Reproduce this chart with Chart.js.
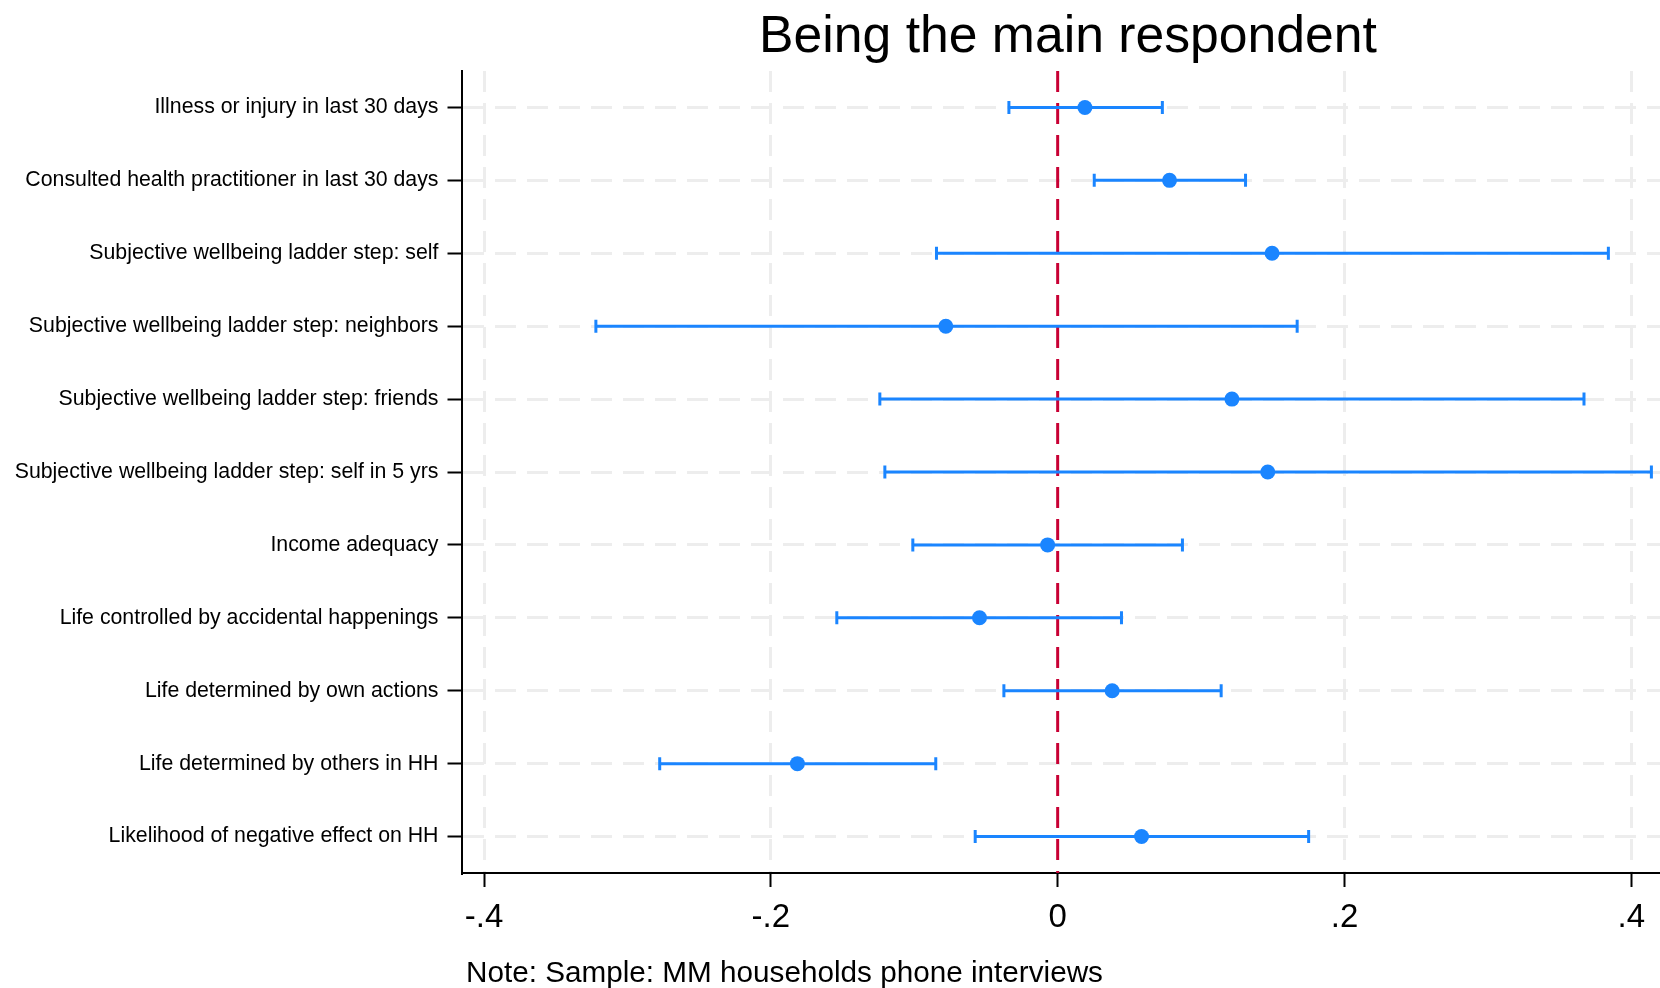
<!DOCTYPE html>
<html>
<head>
<meta charset="utf-8">
<script src="https://cdn.jsdelivr.net/npm/chart.js@4.4.1/dist/chart.umd.min.js"></script>
<style>
    html, body { margin: 0; padding: 0; background: #fff; }
</style>
</head>
<body>
<canvas id="id_grafica" width="1660" height="988"></canvas>
<script>
//------------------------DATOS---------------------------
const etiquetas = [
    'Illness or injury in last 30 days',
    'Consulted health practitioner in last 30 days',
    'Subjective wellbeing ladder step: self',
    'Subjective wellbeing ladder step: neighbors',
    'Subjective wellbeing ladder step: friends',
    'Subjective wellbeing ladder step: self in 5 yrs',
    'Income adequacy',
    'Life controlled by accidental happenings',
    'Life determined by own actions',
    'Life determined by others in HH',
    'Likelihood of negative effect on HH'
];
const coeficientes = [0.019, 0.078, 0.1495, -0.078, 0.1215, 0.1465, -0.007, -0.0545, 0.038, -0.1815, 0.0585];
const limInferior = [-0.034, 0.0255, -0.0845, -0.322, -0.124, -0.1205, -0.101, -0.154, -0.0375, -0.2775, -0.0575];
const limSuperior = [0.073, 0.131, 0.384, 0.167, 0.367, 0.414, 0.087, 0.0445, 0.114, -0.085, 0.175];
const ticksX = [-0.4, -0.2, 0, 0.2, 0.4];
const ticksXTexto = ['-.4', '-.2', '0', '.2', '.4'];
const titulo = 'Being the main respondent';
const nota = 'Note: Sample: MM households phone interviews';

//------------------------ESTILO---------------------------
const azul = '#1A85FF';
const rojo = '#C80034';
const gris = '#EDEDED';
const fuente = '"Liberation Sans", Arial, Helvetica, sans-serif';

const colorGrid = (ctx) => (ctx.tick && ctx.tick.value === 0) ? 'rgba(0,0,0,0)' : gris;

// titulo arriba y nota al pie
const pluginTextos = {
    id: 'textos',
    afterDraw: (chart) => {
        const c = chart.ctx;
        c.save();
        c.fillStyle = '#000';
        c.textBaseline = 'alphabetic';
        c.font = '51.7px ' + fuente;
        c.textAlign = 'center';
        c.fillText(titulo, 1068, 52);
        c.font = '29.7px ' + fuente;
        c.textAlign = 'left';
        c.fillText(nota, 466, 982);
        c.restore();
    }
};

//------------------------DATASETS---------------------------
let misDatasets = [];

// puntos (coeficiente)
misDatasets.push({
    type: 'scatter',
    data: coeficientes.map((v, i) => ({ x: v, y: i + 1 })),
    backgroundColor: azul,
    pointRadius: 7.5,
    pointBorderWidth: 0,
    order: 0
});

// intervalos de confianza con sus topes
etiquetas.forEach((et, i) => {
    misDatasets.push({
        type: 'line',
        data: [{ x: limInferior[i], y: i + 1 }, { x: limSuperior[i], y: i + 1 }],
        borderColor: azul,
        borderWidth: 3,
        pointStyle: 'line',
        pointRotation: 90,
        pointRadius: 6.5,
        pointBorderColor: azul,
        pointBorderWidth: 3,
        order: 1
    });
});

// linea en cero
misDatasets.push({
    type: 'line',
    data: [{ x: 0, y: 0.5 }, { x: 0, y: 11.5 }],
    borderColor: rojo,
    borderWidth: 3,
    borderDash: [21, 11],
    pointRadius: 0,
    order: 2
});

//------------------------GRAFICA---------------------------
let ctx1 = document.getElementById('id_grafica').getContext('2d');
let chart1 = new Chart(ctx1, {
    type: 'scatter',
    data: { datasets: misDatasets },
    plugins: [pluginTextos],
    options: {
        responsive: false,
        animation: false,
        devicePixelRatio: 1,
        layout: { autoPadding: false, padding: { left: 0, right: 0, top: 71, bottom: 0 } },
        plugins: {
            legend: { display: false },
            tooltip: { enabled: false },
            title: { display: false }
        },
        scales: {
            x: {
                type: 'linear',
                position: 'bottom',
                min: -0.4157,
                max: 0.42,
                afterBuildTicks: (scale) => { scale.ticks = ticksX.map(v => ({ value: v })); },
                afterFit: (scale) => {
                    scale.height = 115;
                    scale.paddingLeft = 0;
                    scale.paddingRight = 0;
                },
                ticks: {
                    autoSkip: false,
                    maxRotation: 0,
                    includeBounds: false,
                    padding: 11,
                    color: '#000',
                    font: { family: fuente, size: 33 },
                    callback: (v) => {
                        let idx = ticksX.findIndex(t => Math.abs(t - v) < 1e-9);
                        return idx >= 0 ? ticksXTexto[idx] : '';
                    }
                },
                grid: {
                    color: colorGrid,
                    lineWidth: 3,
                    tickColor: '#000',
                    tickWidth: 2,
                    tickLength: 14
                },
                border: { display: true, color: '#000', width: 2, dash: [21, 11] }
            },
            y: {
                type: 'linear',
                reverse: true,
                min: 0.5,
                max: 11.5,
                afterBuildTicks: (scale) => { scale.ticks = etiquetas.map((et, i) => ({ value: i + 1 })); },
                afterFit: (scale) => { scale.width = 461.5; },
                ticks: {
                    autoSkip: false,
                    includeBounds: false,
                    padding: 9,
                    color: '#000',
                    font: { family: fuente, size: 21.3 },
                    callback: (v) => etiquetas[v - 1]
                },
                grid: {
                    color: gris,
                    lineWidth: 3,
                    tickColor: '#000',
                    tickWidth: 2,
                    tickLength: 14
                },
                border: { display: true, color: '#000', width: 2, dash: [21, 11] }
            }
        }
    }
});
</script>
</body>
</html>
